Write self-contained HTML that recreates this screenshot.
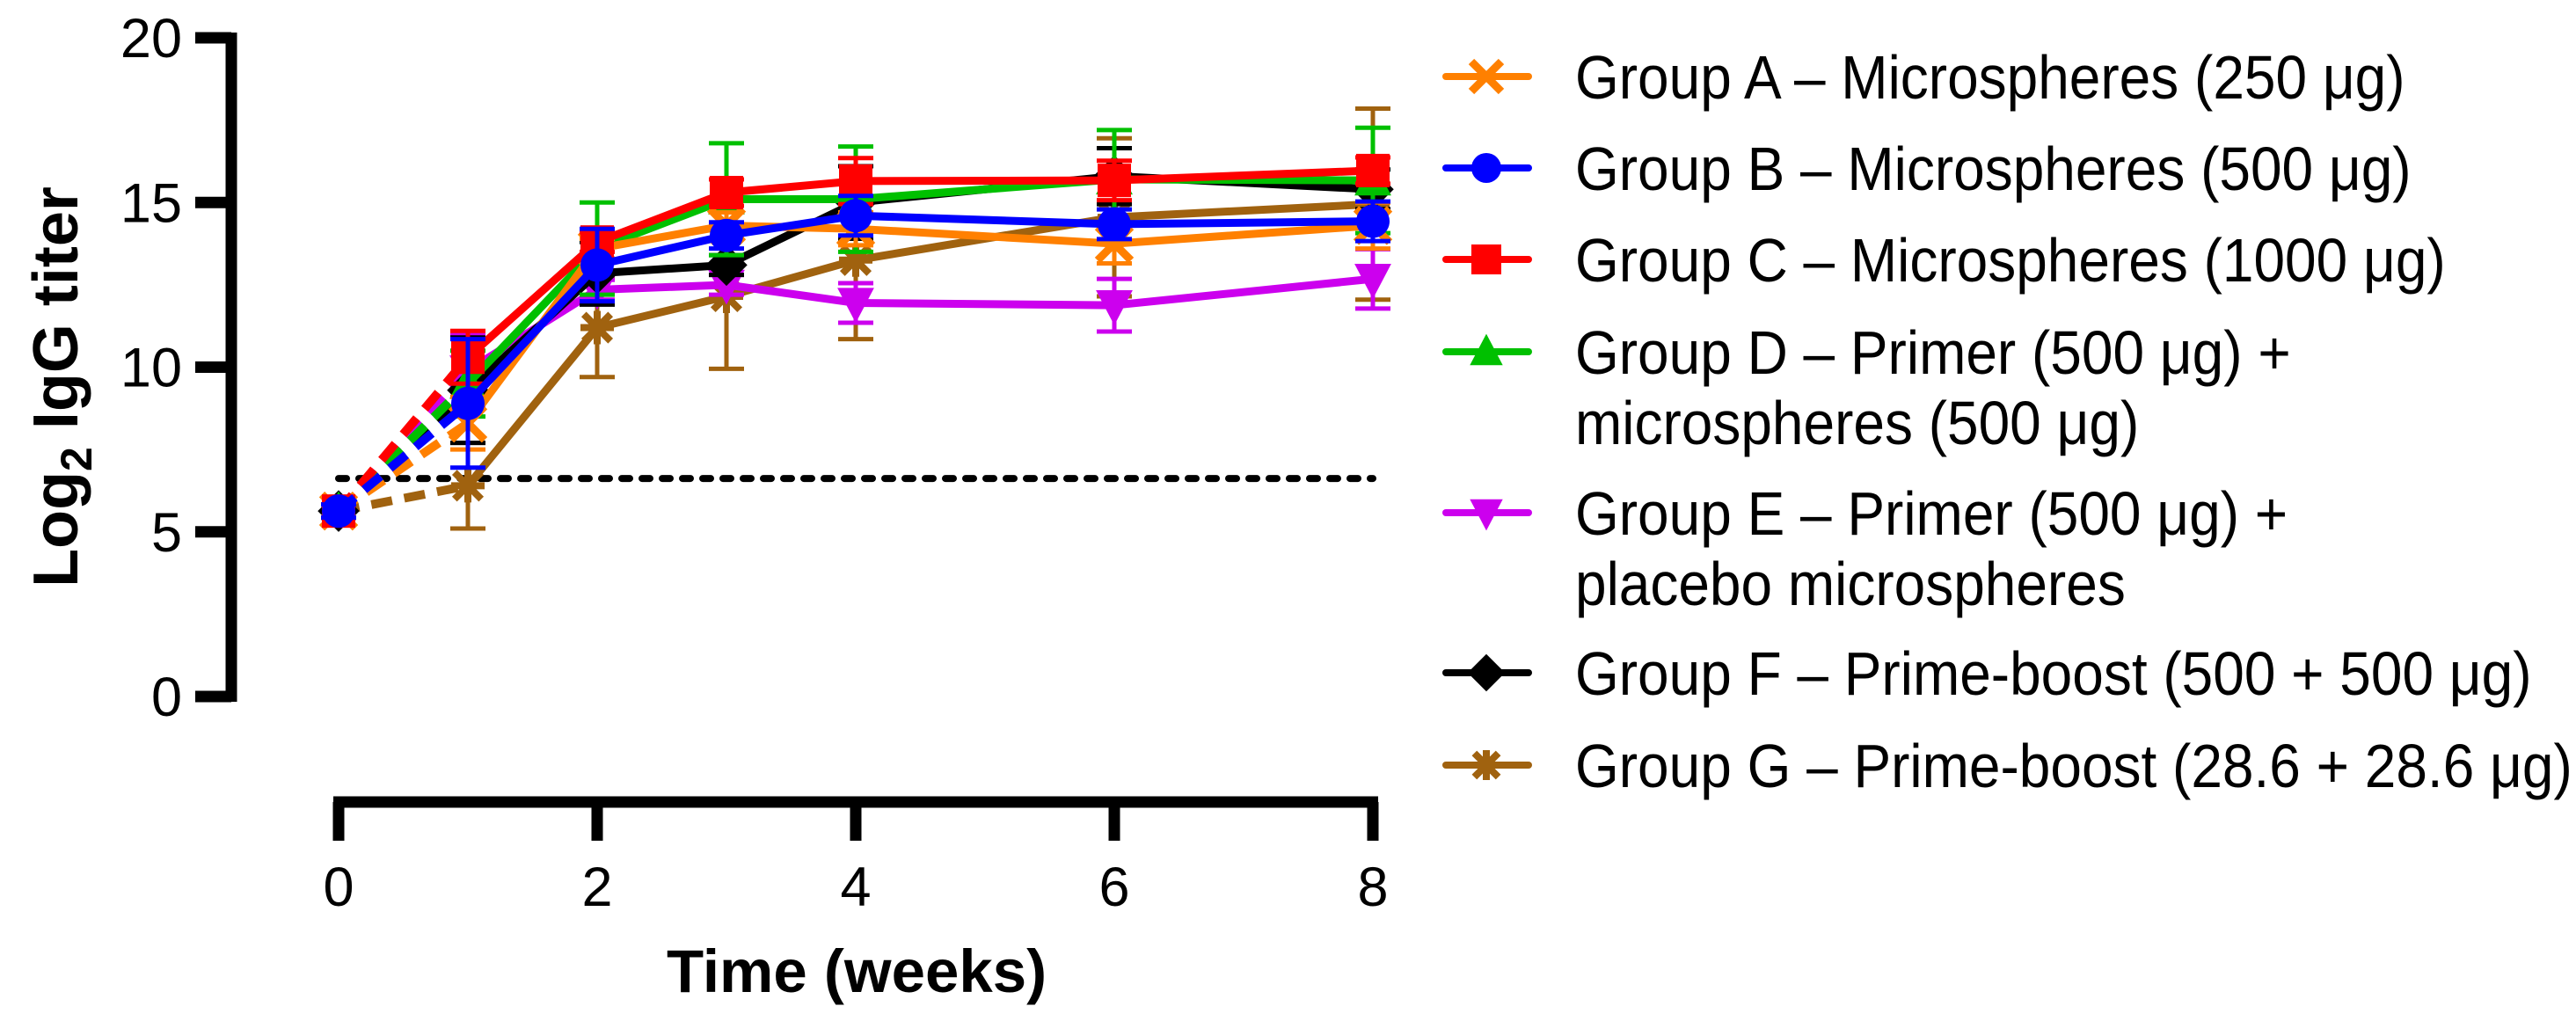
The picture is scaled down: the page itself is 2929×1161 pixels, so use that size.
<!DOCTYPE html>
<html><head><meta charset="utf-8"><style>
html,body{margin:0;padding:0;background:#fff;}
svg{display:block;font-family:"Liberation Sans",Arial,sans-serif;}
</style></head><body>
<svg id="chart" width="2929" height="1161" viewBox="0 0 2929 1161" xmlns="http://www.w3.org/2000/svg">
<rect width="2929" height="1161" fill="#fff"/>
<g id="plot"></g>
<g id="axes"></g>
<g id="legend"></g>
</svg>
<script>
const weeks = [0, 1, 2, 3, 4, 6, 8];
const xTicks = [0, 2, 4, 6, 8];
const yTicks = [0, 5, 10, 15, 20];
const cutoff = 6.62;
const groupNames = ["A","B","C","D","E","F","G"];
const valsA = [5.63, 8.3, 13.6, 14.3, 14.2, 13.75, 14.3];
const valsB = [5.63, 8.9, 13.1, 14.0, 14.6, 14.34, 14.43];
const valsC = [5.63, 10.3, 13.8, 15.3, 15.65, 15.67, 15.97];
const valsD = [5.63, 9.5, 13.6, 15.1, 15.1, 15.7, 15.67];
const valsE = [5.63, 9.9, 12.35, 12.5, 11.95, 11.88, 12.68];
const valsF = [5.63, 9.3, 12.85, 13.1, 15.0, 15.8, 15.4];
const valsG = [5.63, 6.4, 11.2, 12.15, 13.25, 14.55, 14.95];
const errA = [0.2, 0.8, 0.3, 0.4, 0.5, 0.6, 0.7];
const errB = [0.2, 1.95, 1.1, 0.4, 0.6, 0.45, 0.6];
const errC = [0.2, 0.8, 0.3, 0.4, 0.7, 0.6, 0.4];
const errD = [0.2, 1.0, 1.4, 1.7, 1.6, 1.5, 1.6];
const errE = [0.2, 1.1, 0.3, 0.3, 0.6, 0.8, 0.9];
const errF = [0.2, 1.6, 0.95, 0.3, 1.1, 0.85, 0.6];
const errG = [0.2, 1.3, 1.5, 2.2, 2.4, 2.4, 2.9];
const legendLabels = [
 ["Group A –  Microspheres (250 μg)"],
 ["Group B – Microspheres (500 μg)"],
 ["Group C – Microspheres (1000 μg)"],
 ["Group D – Primer (500 μg) +","microspheres (500 μg)"],
 ["Group E – Primer (500 μg) +","placebo microspheres"],
 ["Group F – Prime-boost (500 + 500 μg)"],
 ["Group G – Prime-boost (28.6 + 28.6 μg)"]
];
const NS="http://www.w3.org/2000/svg";
const X0=385, XW=147, Y0=792, YU=37.45;
const xs=v=>X0+v*XW, ys=v=>Y0-v*YU;
const colors={A:"#FF8000",B:"#0000FF",C:"#FF0000",D:"#00C000",E:"#CC00EE",F:"#000000",G:"#A0620F"};
const series={A:[valsA,errA],B:[valsB,errB],C:[valsC,errC],D:[valsD,errD],E:[valsE,errE],F:[valsF,errF],G:[valsG,errG]};
function mk(tag,attrs,parent){const e=document.createElementNS(NS,tag);for(const k in attrs)e.setAttribute(k,attrs[k]);parent.appendChild(e);return e;}
function marker(g,k,cx,cy,s){
 const c=colors[k];let m;
 if(k==="A"){m=mk("path",{d:`M${cx-s} ${cy-s}L${cx+s} ${cy+s}M${cx-s} ${cy+s}L${cx+s} ${cy-s}`,stroke:c,"stroke-width":9,fill:"none"},g);}
 else if(k==="B"){m=mk("circle",{cx:cx,cy:cy,r:s,fill:c},g);}
 else if(k==="C"){m=mk("rect",{x:cx-s,y:cy-s,width:s*2,height:s*2,fill:c},g);}
 else if(k==="D"){m=mk("path",{d:`M${cx} ${cy-s*1.2}L${cx+s*1.1} ${cy+s*0.9}L${cx-s*1.1} ${cy+s*0.9}Z`,fill:c},g);}
 else if(k==="E"){m=mk("path",{d:`M${cx} ${cy+s*1.2}L${cx+s*1.1} ${cy-s*0.9}L${cx-s*1.1} ${cy-s*0.9}Z`,fill:c},g);}
 else if(k==="F"){m=mk("path",{d:`M${cx} ${cy-s*1.25}L${cx+s*1.25} ${cy}L${cx} ${cy+s*1.25}L${cx-s*1.25} ${cy}Z`,fill:c},g);}
 else {const d=s*0.8;m=mk("path",{d:`M${cx} ${cy-s}L${cx} ${cy+s}M${cx-s} ${cy}L${cx+s} ${cy}M${cx-d} ${cy-d}L${cx+d} ${cy+d}M${cx-d} ${cy+d}L${cx+d} ${cy-d}`,stroke:c,"stroke-width":8,fill:"none"},g);}
 
 
 return m;
}
const plot=document.getElementById("plot");
const cl=mk("line",{x1:xs(0),x2:xs(8),y1:ys(cutoff),y2:ys(cutoff),stroke:"#000","stroke-width":8,"stroke-dasharray":"9 14","stroke-linecap":"round"},plot);


const order=["G","E","F","D","A","C","B"];
order.forEach(k=>{
 const [v,e]=series[k];const c=colors[k];
 const g=mk("g",{},plot);
 
 
 weeks.forEach((w,i)=>{
  const x=xs(w);
  const eb=mk("path",{d:`M${x} ${ys(v[i]-e[i])}L${x} ${ys(v[i]+e[i])}M${x-20} ${ys(v[i]-e[i])}L${x+20} ${ys(v[i]-e[i])}M${x-20} ${ys(v[i]+e[i])}L${x+20} ${ys(v[i]+e[i])}`,stroke:c,"stroke-width":5,fill:"none"},g);
  
  
 });
 const d1=mk("line",{x1:xs(weeks[0]),y1:ys(v[0]),x2:xs(weeks[1]),y2:ys(v[1]),stroke:c,"stroke-width":10,"stroke-dasharray":"24 14"},g);
 
 
 let pts=weeks.slice(1).map((w,i)=>xs(w)+","+ys(v[i+1])).join(" ");
 const pl=mk("polyline",{points:pts,stroke:c,"stroke-width":9,fill:"none","stroke-linejoin":"round"},g);
 
 
 weeks.forEach((w,i)=>marker(g,k,xs(w),ys(v[i]),19));
});
const ax=document.getElementById("axes");
const ya=mk("line",{x1:263,x2:263,y1:ys(20)-6,y2:ys(0)+6,stroke:"#000","stroke-width":13},ax);


yTicks.forEach(t=>{
 const tl=mk("line",{x1:222,x2:263,y1:ys(t),y2:ys(t),stroke:"#000","stroke-width":13},ax);
 
 
 const tx=mk("text",{x:207,y:ys(t)+22,"text-anchor":"end","font-size":63,fill:"#000"},ax);
 tx.textContent=t;
 
 
});
const xa=mk("line",{x1:xs(0)-6,x2:xs(8)+6,y1:912,y2:912,stroke:"#000","stroke-width":13},ax);


xTicks.forEach(t=>{
 const tl=mk("line",{x1:xs(t),x2:xs(t),y1:912,y2:956,stroke:"#000","stroke-width":13},ax);
 
 
 const tx=mk("text",{x:xs(t),y:1030,"text-anchor":"middle","font-size":63,fill:"#000"},ax);
 tx.textContent=t;
 
 
});
const xt=mk("text",{x:974,y:1128,"text-anchor":"middle","font-size":69,"font-weight":"bold",fill:"#000"},ax);
xt.textContent="Time (weeks)";


const yt=mk("text",{transform:"translate(88,440) rotate(-90)","text-anchor":"middle","font-size":72,"font-weight":"bold",fill:"#000"},ax);
yt.innerHTML='Log<tspan font-size="50" dy="16">2</tspan><tspan dy="-16"> IgG titer</tspan>';


const lg=document.getElementById("legend");
const rowY=[87,191,295,400,583,765,870];
groupNames.forEach((k,i)=>{
 const g=mk("g",{},lg);
 
 
 const y=rowY[i];
 mk("line",{x1:1644,x2:1738,y1:y,y2:y,stroke:colors[k],"stroke-width":8,"stroke-linecap":"round"},g);
 marker(g,k,1690,y,17);
 legendLabels[i].forEach((s,j)=>{
  const t=mk("text",{x:0,y:0,transform:`translate(1791,${y+25+j*80}) scale(0.914,1)`,"font-size":70,fill:"#000"},g);
  t.textContent=s;
  
  
 });
});
</script>
</body></html>
